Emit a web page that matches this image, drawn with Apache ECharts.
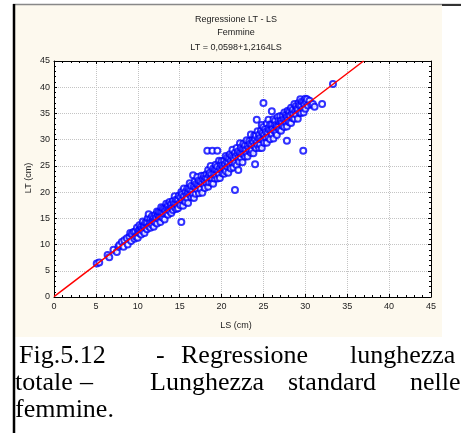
<!DOCTYPE html>
<html><head><meta charset="utf-8">
<script src="https://cdn.jsdelivr.net/npm/echarts@6/dist/echarts.min.js"></script>
<style>html,body{margin:0;padding:0;background:#fff}#c{width:461px;height:433px}</style>
</head><body><div id="c"></div>
<script>
// LS (cm) of the observed females, grouped by size range
const lsSmall = [5.1,5.4,6.4,6.6,7.1,7.5,7.7,7.8,8.1,8.3,8.4,8.7,8.8,9.0,9.1,9.2,9.3,9.5,9.6,
  9.7,9.8,9.9,10.0,10.0,10.1,10.2,10.2,10.3,10.4,10.4,10.5,10.6,10.6,10.7,10.8,10.8,10.9,11.0,11.1,11.1,11.2,11.3,11.3,11.4,11.5,11.5,11.6,11.7,11.7,11.8,11.9,11.9,12.0];
const ltSmall = [6.4,6.6,8.0,7.6,9.0,8.6,9.6,9.9,10.5,9.6,10.8,11.2,10.0,11.5,12.2,10.7,12.0,12.4,11.1,
  12.5,11.5,13.2,12.2,11.3,12.7,12.2,13.7,12.9,11.9,13.4,12.9,14.4,12.6,13.6,12.2,13.4,14.2,13.2,14.2,12.9,15.0,15.8,13.5,14.3,13.2,14.9,14.2,15.4,13.8,14.7,13.4,15.1,14.5];
const lsMid = [12.1,12.1,12.2,12.3,12.3,12.4,12.5,12.5,12.6,12.7,12.7,12.8,12.8,12.9,13.0,13.0,13.1,13.2,13.2,13.3,13.4,13.4,13.5,13.6,13.6,13.7,13.8,13.8,13.9,14.0,14.0,14.1,14.2,14.2,14.3,14.4,14.4,14.5,14.6,14.6,14.7,14.8,14.8,14.9,15.0,15.2,
  15.1,15.1,15.2,15.3,15.3,15.4,15.5,15.5,15.6,15.7,15.7,15.8,15.9,15.9,16.0,16.0,16.1,16.2,16.2,16.3,16.4,16.4,16.5,16.6,16.6,16.7,16.7,16.8,16.9,16.9,17.0,17.1,17.1,17.2,17.3,17.3,17.4,17.5,17.5,17.6,17.7,17.7,17.8,17.9,17.9,18.0,18.0,18.1];
const ltMid = [15.7,14.2,15.1,14.0,16.3,15.6,14.9,16.2,15.4,14.3,16.1,17.1,15.3,16.1,15.1,16.9,15.9,16.8,14.8,16.4,17.8,15.9,17.0,15.7,17.5,16.7,16.4,18.1,17.4,16.0,17.8,17.0,18.3,16.6,17.8,17.1,19.2,17.8,16.8,18.6,17.6,18.6,16.9,19.3,17.9,14.3,
  19.0,17.5,20.0,18.5,19.6,17.4,19.2,20.7,18.4,20.0,18.1,19.3,20.7,18.9,19.9,17.9,20.6,19.5,21.7,20.4,19.0,21.2,20.1,23.2,19.6,21.1,18.9,22.0,20.8,19.7,21.6,20.5,22.9,21.4,19.8,22.2,21.1,22.0,20.6,23.1,21.7,19.9,22.5,21.3,23.1,22.2,20.8,22.8];
const lsLarge = [18.2,18.2,18.3,18.3,18.4,18.4,18.5,18.5,18.6,18.7,18.7,18.8,18.8,18.9,18.9,19.0,19.0,19.1,19.2,19.2,19.3,19.3,19.4,19.5,19.5,19.5,19.6,19.7,19.7,19.8,19.8,19.9,20.0,20.0,20.1,20.1,20.2,20.3,20.3,20.4,20.4,20.5,20.5,20.6,20.7,20.7,20.8,20.8,20.9,21.0,21.0,21.1,21.1,21.2,21.3,21.3,21.4,21.4,21.5,
  21.6,21.6,21.6,21.7,21.8,21.8,21.9,22.0,22.0,22.0,22.1,22.2,22.2,22.3,22.3,22.4,22.5,22.5,22.6,22.6,22.7,22.8,22.8,22.9,23.0,23.0,23.1,23.1,23.2,23.3,23.3,23.4,23.5,23.5,23.6,23.6,23.7,23.8,23.8,23.9,23.9,24.0,24.0,24.1,24.1,24.2,24.2,24.3,24.3,24.4,24.5,24.5,24.6,24.6,24.7,24.8,24.8,24.8,24.9,25.0,25.0,25.0];
const ltLarge = [21.8,23.4,27.9,22.6,21.0,24.2,23.2,21.9,23.7,22.6,25.0,21.8,23.4,27.9,22.6,24.5,21.6,23.5,22.6,24.3,25.2,23.2,24.3,27.9,22.6,24.9,23.9,23.4,26.0,24.6,22.7,25.3,24.2,25.9,23.6,25.1,24.7,23.5,26.0,25.3,24.4,26.9,24.0,25.8,24.9,26.6,23.7,25.6,26.4,25.0,27.2,26.0,24.5,26.9,25.6,28.1,26.6,24.7,26.2,
  20.4,27.5,25.5,26.8,25.1,28.4,27.3,24.2,26.5,27.8,25.8,27.5,29.3,26.6,28.5,27.3,25.7,28.2,29.2,27.2,28.2,26.8,28.9,28.1,27.3,29.9,28.8,26.8,28.3,29.7,27.9,29.2,27.5,31.0,29.1,28.0,29.9,27.4,29.5,30.8,28.8,25.3,30.1,28.4,30.8,33.8,29.5,31.6,29.0,30.3,28.4,31.0,30.3,29.1,31.7,30.0,32.8,28.4,31.3,37.0,30.0,32.4];
const lsBig = [25.1,25.1,25.2,25.3,25.3,25.4,25.4,25.5,25.6,25.6,25.6,25.7,25.8,25.8,25.9,26.0,26.0,26.0,26.1,26.2,26.2,26.3,26.3,26.4,26.5,26.5,26.6,26.6,26.7,26.8,26.8,26.9,27.0,27.0,27.1,27.1,27.2,27.3,27.3,27.4,27.5,27.5,27.6,27.7,27.7,27.8,27.8,27.8,27.9,27.9,28.0,
  28.1,28.1,28.2,28.3,28.3,28.4,28.5,28.5,28.6,28.7,28.7,28.8,28.9,28.9,29.0,29.1,29.1,29.2,29.3,29.3,29.4,29.5,29.5,29.6,29.7,29.75,29.8,29.8,29.9,30.0,30.0,30.1,30.2,30.3,30.5,30.7,30.9,31.1,32.0,33.3];
const ltBig = [31.0,29.4,32.0,30.4,31.5,33.1,29.4,31.3,33.8,30.4,32.2,31.8,30.1,32.9,31.6,35.4,31.1,32.9,32.1,30.2,33.9,32.9,31.7,33.6,31.3,32.8,32.5,30.9,34.3,32.5,33.6,31.9,33.3,34.5,31.7,33.6,33.2,34.5,32.6,33.9,32.4,35.2,33.8,33.3,34.8,29.8,32.5,34.3,35.5,33.7,34.8,
  33.3,35.3,34.6,33.2,36.1,35.1,34.1,35.7,34.9,36.8,34.0,35.5,34.8,36.4,35.9,34.0,35.7,37.0,35.2,36.5,37.7,35.1,36.4,37.3,35.9,27.9,37.2,35.2,36.7,37.8,35.9,37.2,37.7,36.5,37.4,36.7,36.8,36.3,36.8,40.6];
// regression line LT = 0,0598 + 1,2164 LS (end points)
const fitLS = [0, 36.95];
const fitLT = [0.0598, 45];
const tickLabels = ['0','5','10','15','20','25','30','35','40','45'];
const titleLines = ['Regressione LT - LS', 'Femmine', 'LT = 0,0598+1,2164LS'];
const captionWords = [
  ['Fig.5.12', '-', 'Regressione', 'lunghezza'],
  ['totale', '–', 'Lunghezza', 'standard', 'nelle'],
  ['femmine.']
];
const captionX = [[19,156,181,350],[15,80,150,288,410],[15]];
const captionY = [369, 396, 423];

const lsValues = lsSmall.concat(lsMid, lsLarge, lsBig);
const ltValues = ltSmall.concat(ltMid, ltLarge, ltBig);
const nPts = Math.min(lsValues.length, ltValues.length);
const scatterData = [];
for (let i = 0; i < nPts; i++) scatterData.push([lsValues[i], ltValues[i]]);
const lineData = fitLS.map((v,i)=>[v, fitLT[i]]);

const sans = 'Liberation Sans, Arial, sans-serif';
function axisCommon(showLabel){
  return {
    type:'value', min:0, max:45, interval:5,
    axisLine:{show:true, onZero:false, lineStyle:{color:'#000', width:1}},
    axisTick:{show:true, inside:true, length:3, lineStyle:{color:'#000'}},
    minorTick:{show:true, splitNumber:5, length:2, lineStyle:{color:'#000'}},
    splitLine:{show:showLabel, lineStyle:{color:'#c4c4c4', width:1, type:[1,1]}},
    axisLabel:{show:showLabel, fontSize:9, fontFamily:sans, color:'#222',
      formatter:(v)=>tickLabels[Math.round(v/5)] }
  };
}
const xb = Object.assign(axisCommon(true), {position:'bottom'}); xb.axisLabel.margin = 5;
const xt = Object.assign(axisCommon(false), {position:'top'});
const yl = Object.assign(axisCommon(true), {position:'left'}); yl.axisLabel.margin = 4;
const yr = Object.assign(axisCommon(false), {position:'right'});

const graphics = [
  {type:'rect', z:-10, shape:{x:15, y:5, width:427, height:332}, style:{fill:'#fdf9ee'}},
  {type:'line', z:5, shape:{x1:13, y1:4.5, x2:461, y2:4.5}, style:{stroke:'#888', lineWidth:1.5}},
  {type:'line', z:5, shape:{x1:442, y1:5, x2:461, y2:5}, style:{stroke:'#333', lineWidth:2}},
  {type:'line', z:5, shape:{x1:14, y1:4, x2:14, y2:433}, style:{stroke:'#000', lineWidth:2.5}},
  {type:'text', style:{text:'LT (cm)', x:0, y:0, font:'9px '+sans, fill:'#222', align:'center', verticalAlign:'middle'}, x:29, y:178, rotation:Math.PI/2},
  {type:'text', style:{text:'LS (cm)', x:236, y:326, font:'9px '+sans, fill:'#222', align:'center', verticalAlign:'middle'}}
];
titleLines.forEach((t,i)=>graphics.push({type:'text', style:{text:t, x:236, y:[20,33,48][i], font:'9px '+sans, fill:'#222', align:'center', verticalAlign:'middle'}}));
captionWords.forEach((line,li)=>line.forEach((w,wi)=>graphics.push({type:'text', style:{text:w, x:captionX[li][wi], y:captionY[li], font:'26px "Liberation Serif", "Times New Roman", serif', fill:'#000', align:'left', verticalAlign:'bottom'}})));

const chart = echarts.init(document.getElementById('c'), null, {renderer:'canvas'});
chart.setOption({
  animation:false,
  backgroundColor:'#fff',
  grid:{left:54, top:61, width:377, height:236, show:true, backgroundColor:'#fff', borderColor:'#000', borderWidth:0},
  xAxis:[xb, xt],
  yAxis:[yl, yr],
  graphic:graphics,
  series:[
    {type:'scatter', xAxisIndex:0, yAxisIndex:0, data:scatterData, symbol:'emptyCircle', symbolSize:6,
      itemStyle:{color:'#0000ff', borderColor:'#0000ff', borderWidth:1}, z:3},
    {type:'line', xAxisIndex:0, yAxisIndex:0, data:lineData, showSymbol:false, symbol:'none',
      lineStyle:{color:'#ff0000', width:1.5}, z:4}
  ]
});
</script></body></html>
